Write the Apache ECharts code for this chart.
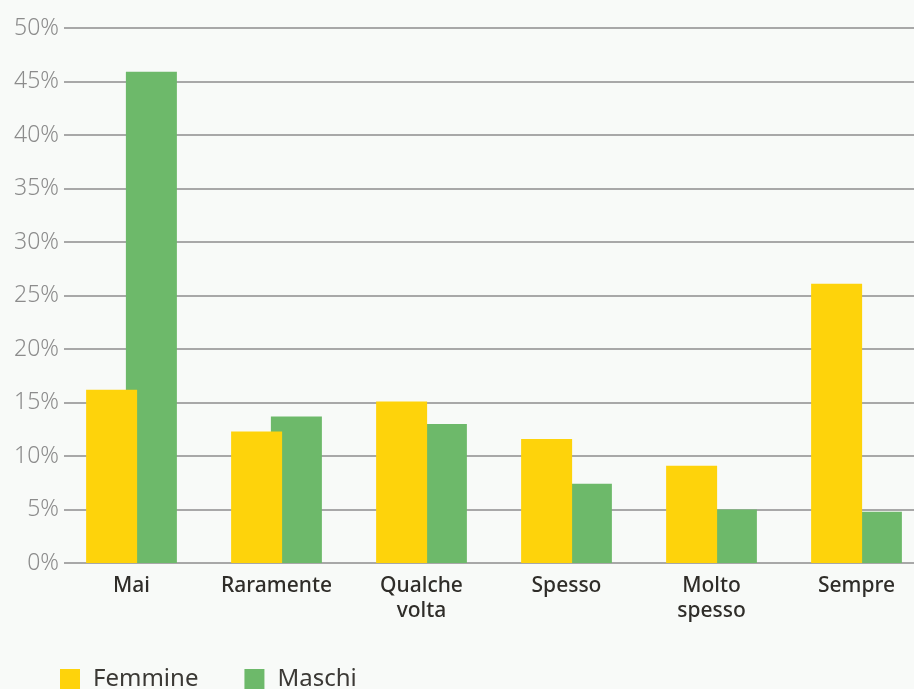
<!DOCTYPE html>
<html>
<head>
<meta charset="utf-8">
<script src="https://cdn.jsdelivr.net/npm/echarts@6/dist/echarts.min.js"></script>
<style>
  html, body { margin: 0; padding: 0; background: #f8faf8; }
  #chart { width: 914px; height: 689px; }
</style>
</head>
<body>
<div id="chart"></div>
<script>
// Frequency categories and shares (%) by gender
const categories = ['Mai', 'Raramente', 'Qualche\nvolta', 'Spesso', 'Molto\nspesso', 'Sempre'];
const femmine = [16.2, 12.3, 15.1, 11.6, 9.1, 26.1];
const maschi = [45.9, 13.7, 13.0, 7.4, 5.0, 4.8];
const yTicks = [0, 5, 10, 15, 20, 25, 30, 35, 40, 45, 50];

const chart = echarts.init(document.getElementById('chart'));

const yMin = yTicks[0], yMax = yTicks[yTicks.length - 1], yStep = yTicks[1] - yTicks[0];

chart.setOption({
  backgroundColor: '#f8faf8',
  animation: false,
  legend: {
    left: 60,
    top: 667,
    padding: 0,
    itemWidth: 20,
    itemHeight: 20,
    itemGap: 46,
    icon: 'rect',
    textStyle: { fontFamily: 'Noto Sans', fontSize: 24, color: '#3b3935', padding: [8, 0, 0, 8] },
    data: ['Femmine', 'Maschi']
  },
  grid: [
    // grid carrying the percentage scale and its horizontal rules
    { left: 64, right: 0, top: 28, bottom: 126, outerBoundsMode: 'none' },
    // grid carrying the bars (runs past the right edge)
    { left: 59, width: 870, top: 28, bottom: 126, outerBoundsMode: 'none' }
  ],
  xAxis: [
    { gridIndex: 0, type: 'category', data: categories, show: false },
    {
      gridIndex: 1, type: 'category', data: categories,
      axisLine: { show: false }, axisTick: { show: false },
      axisLabel: {
        margin: 11, fontFamily: 'Noto Sans', fontSize: 21, fontWeight: 500,
        color: '#2f2d29', lineHeight: 25, interval: 0
      }
    }
  ],
  yAxis: [
    {
      gridIndex: 0, type: 'value', min: yMin, max: yMax, interval: yStep,
      axisLine: { show: false }, axisTick: { show: false },
      axisLabel: {
        margin: 5, fontFamily: 'Noto Sans', fontSize: 23, fontWeight: 300, color: '#8c8c8c',
        formatter: v => v + '%'
      },
      splitLine: { lineStyle: { color: '#a8a8a8', width: 2 } }
    },
    {
      gridIndex: 1, type: 'value', min: yMin, max: yMax, interval: yStep,
      show: false, splitLine: { show: false }
    }
  ],
  series: [
    {
      name: 'Femmine', type: 'bar', xAxisIndex: 1, yAxisIndex: 1,
      data: femmine, barWidth: 51, barGap: '-22%', z: 3,
      itemStyle: { color: '#fed30b' }
    },
    {
      name: 'Maschi', type: 'bar', xAxisIndex: 1, yAxisIndex: 1,
      data: maschi, barWidth: 51, barGap: '-22%', z: 2,
      itemStyle: { color: '#6db96a' }
    }
  ]
});
</script>
</body>
</html>
